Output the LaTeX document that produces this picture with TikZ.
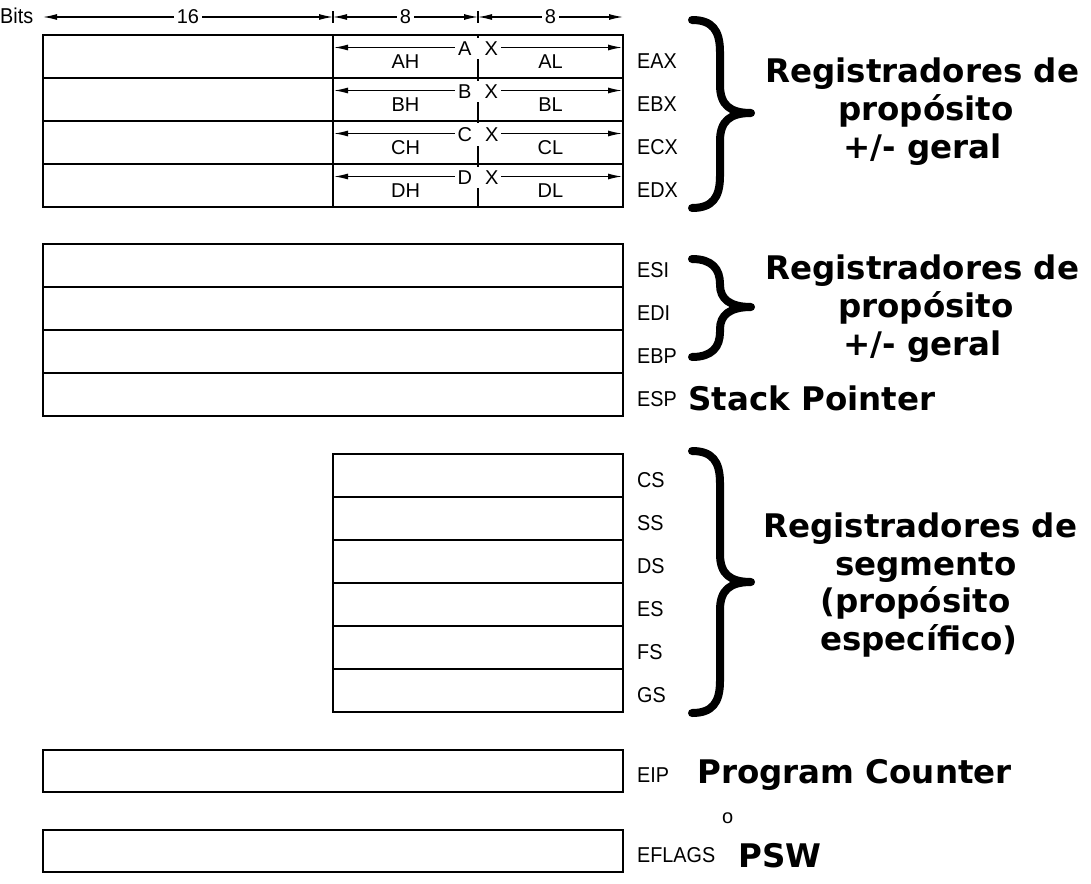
\documentclass[tikz,border=0pt]{standalone}
\usepackage{fontspec}
\setmainfont{Liberation Sans}
\newfontfamily\dvb{DejaVu Sans}
\newfontfamily\narrowf{Liberation Sans}[FakeStretch=0.92]
\usetikzlibrary{arrows.meta}
\begin{document}
\begin{tikzpicture}[x=1pt,y=-1pt,
  reg/.style={draw=black,line width=2pt},
  lbl/.style={anchor=base west,inner sep=0pt,font=\narrowf\fontsize{21.5}{25}\selectfont},
  sm/.style={anchor=base,inner sep=0pt,font=\fontsize{20}{24}\selectfont},
  big/.style={anchor=base west,inner sep=0pt,font=\dvb\bfseries\fontsize{32.5}{38}\selectfont},
  dim/.style={line width=1.2pt,{Latex[length=14pt,width=6pt]}-{Latex[length=14pt,width=6pt]}},
  brc/.style={line width=8pt,line cap=round,line join=round},
  wl/.style={fill=white,inner xsep=3pt,inner ysep=4pt,font=\fontsize{20}{24}\selectfont}
]
\useasboundingbox (0,0) rectangle (1091,883);

% Bits scale
\node[lbl] (bits) at (0,23.3) {Bits};
\coordinate (b0) at (43,17);
\coordinate (b1) at (333,17);
\coordinate (b2) at (478,17);
\coordinate (b3) at (623,17);
\draw[dim] (b0) -- (b1) node[midway,wl,inner ysep=1pt] (n16) {16};
\draw[dim] (b1) -- (b2) node[midway,wl,inner ysep=1pt] (n8a) {8};
\draw[dim] (b2) -- (b3) node[midway,wl,inner ysep=1pt] (n8b) {8};
\draw[line width=1.2pt] ([yshift=-6pt]b1) -- ([yshift=6pt]b1);
\draw[line width=1.2pt] ([yshift=-6pt]b2) -- ([yshift=6pt]b2);

% General purpose registers with 8-bit halves
\foreach \t/\n/\r in {35/A/EAX, 78/B/EBX, 121/C/ECX, 164/D/EDX} {
  \draw[reg] (43,\t) rectangle (623,\t+43);
  \draw[reg] (333,\t) -- (333,\t+43);
  \draw[reg] (478,\t) -- (478,\t+43);
  \coordinate (l\n) at (334,\t+12.5);
  \coordinate (r\n) at (622,\t+12.5);
  \draw[dim] (l\n) -- (r\n);
  \node[wl] (x\n) at (478,\t+13.5) {\n\hspace{13pt}X};
  \node[sm] (h\n) at (405.5,\t+33.5) {\n H};
  \node[sm] (o\n) at (550.5,\t+33.5) {\n L};
  \node[lbl] (\r) at (637,\t+33) {\r};
}

% ESI..ESP
\foreach \t/\r in {244/ESI, 287/EDI, 330/EBP, 373/ESP} {
  \draw[reg] (43,\t) rectangle (623,\t+43);
  \node[lbl] (\r) at (637,\t+33) {\r};
}

% Segment registers
\foreach \t/\r in {454/CS, 497/SS, 540/DS, 583/ES, 626/FS, 669/GS} {
  \draw[reg] (333,\t) rectangle (623,\t+43);
  \node[lbl] (\r) at (637,\t+33) {\r};
}

% EIP and EFLAGS
\draw[reg] (43,750) rectangle (623,792);
\node[lbl] (EIP) at (637,782.5) {EIP};
\draw[reg] (43,830) rectangle (623,872);
\node[lbl] (EFLAGS) at (637,862.7) {EFLAGS};

% Braces
\foreach \a/\m/\b/\r/\s in {20/113/208/32/28, 259/307/357/25/22, 451/582/713/32/28} {
  \draw[brc] (692,\a) .. controls (712,\a) and (720,\a+10) .. (720,\a+\r)
    -- (720,\m-\s) .. controls (720,\m-8) and (730,\m) .. (751,\m)
    .. controls (730,\m) and (720,\m+8) .. (720,\m+\s)
    -- (720,\b-\r) .. controls (720,\b-10) and (712,\b) .. (692,\b);
}

% Descriptions
\node[big] (g1a) at (765,82) {Registradores de};
\node[big] (g1b) at (838,120) {propósito};
\node[big] (g1c) at (843,158) {+/- geral};
\node[big] (g2a) at (765,279) {Registradores de};
\node[big] (g2b) at (838,317) {propósito};
\node[big] (g2c) at (843,355) {+/- geral};
\node[big] (sp) at (688,410) {Stack Pointer};
\node[big] (g3a) at (763,537) {Registradores de};
\node[big] (g3b) at (835,575) {segmento};
\node[big] (g3c) at (820,612) {(propósito};
\node[big] (g3d) at (820,650) {específico)};
\node[big] (pc) at (697,783) {Program Counter};
\node[anchor=base west,inner sep=0pt,font=\fontsize{20}{24}\selectfont] (or) at (722,823) {o};
\node[big] (psw) at (738,867) {PSW};
\end{tikzpicture}
\end{document}
